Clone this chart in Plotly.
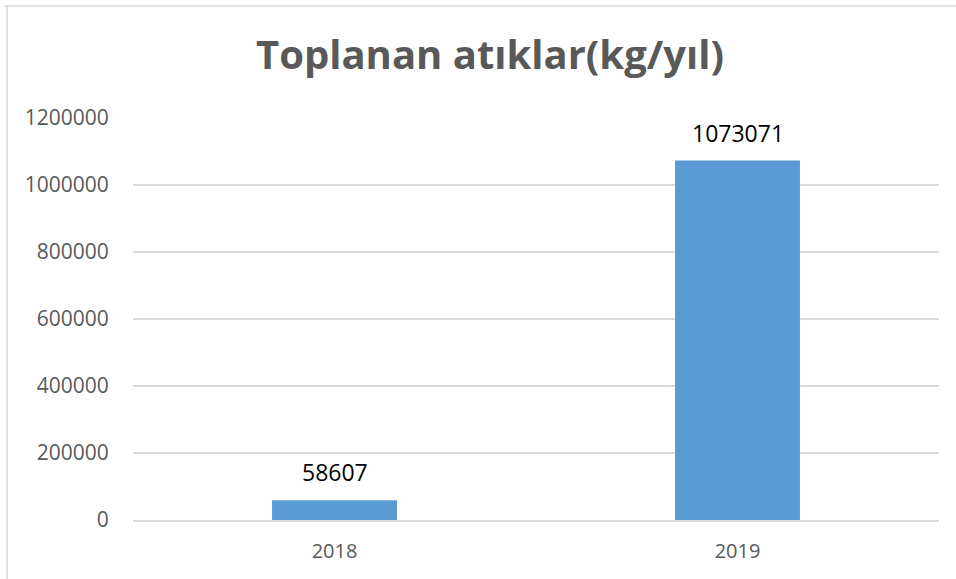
import plotly.graph_objects as go

years = ["2018", "2019"]
values = [58607, 1073071]
y_ticks = [0, 200000, 400000, 600000, 800000, 1000000, 1200000]
title_text = "Toplanan atıklar(kg/yıl)"

W, H = 956, 579
L, R, T, B = 133, 17, 118, 59
pw, ph = W - L - R, H - T - B

def px_x(p):
    return (p - L) / pw

def px_y(p):
    return (H - B - p) / ph

fig = go.Figure()
fig.add_trace(go.Bar(
    x=years, y=values, marker_color="#5B9BD5", width=0.31,
    marker_line_width=0, hoverinfo="skip",
))
for i, v in enumerate(values):
    fig.add_annotation(x=i, y=v, text=str(v), showarrow=False,
                       yanchor="bottom", yshift=10,
                       font=dict(family="Open Sans, sans-serif", size=23, color="#000000"))

grey = "#D9D9D9"
fig.add_shape(type="line", xref="paper", yref="paper",
              x0=px_x(4), x1=px_x(960), y0=px_y(6), y1=px_y(6),
              line=dict(color=grey, width=1.5))
fig.add_shape(type="line", xref="paper", yref="paper",
              x0=px_x(7), x1=px_x(7), y0=px_y(6), y1=px_y(600),
              line=dict(color=grey, width=1.5))

fig.update_layout(
    width=W, height=H,
    margin=dict(l=L, r=R, t=T, b=B, autoexpand=False),
    paper_bgcolor="white", plot_bgcolor="white",
    showlegend=False,
    title=dict(text="<b>" + title_text + "</b>", x=490 / W, xanchor="center",
               y=1 - 55 / H, yanchor="middle", xref="container", yref="container",
               font=dict(family="Open Sans, sans-serif", size=40, color="#595959")),
)
fig.update_yaxes(range=[0, 1200000], tickvals=y_ticks, ticktext=[str(t) for t in y_ticks],
                 showgrid=True, gridcolor=grey, gridwidth=1.5, zeroline=False,
                 showline=False, ticks="outside", ticklen=19, tickcolor="rgba(0,0,0,0)",
                 automargin=False,
                 tickfont=dict(family="Open Sans, sans-serif", size=21, color="#595959"))
fig.update_xaxes(type="category", range=[-0.5, 1.5], showgrid=False, showline=True,
                 linecolor=grey, linewidth=1.5,
                 ticks="outside", ticklen=12, tickcolor="rgba(0,0,0,0)", automargin=False,
                 tickfont=dict(family="Open Sans, sans-serif", size=20, color="#595959"))

fig.write_html("out.html", config={"displayModeBar": False})

with open("out.html", "r", encoding="utf-8") as f:
    html = f.read()
html = html.replace("<head>", "<head><style>html,body{margin:0;padding:0;overflow:hidden;}</style>", 1)
with open("out.html", "w", encoding="utf-8") as f:
    f.write(html)
